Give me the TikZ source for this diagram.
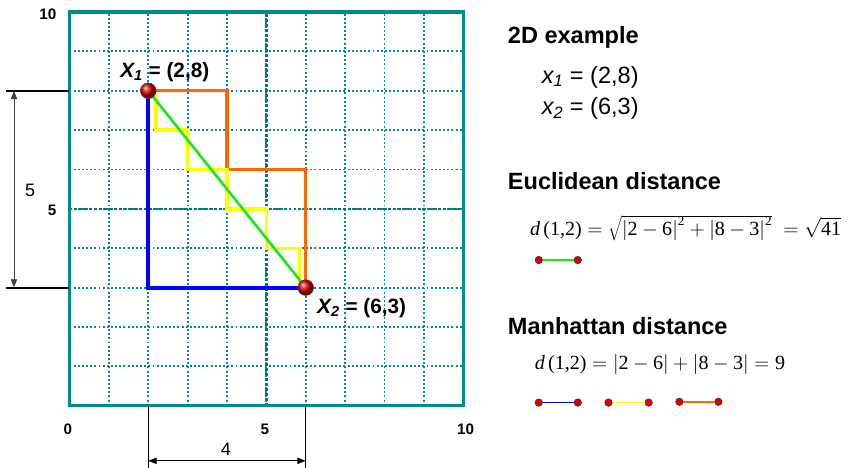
\RequirePackage{fix-cm}
\documentclass[tikz,border=0pt]{standalone}
\usepackage{fontspec}
\setmainfont{Liberation Sans}
\newfontfamily\timesf{Liberation Serif}
\usetikzlibrary{arrows.meta}

\definecolor{gridteal}{RGB}{0,140,140}
\definecolor{pathblue}{RGB}{0,0,255}
\definecolor{pathorange}{RGB}{255,102,0}
\definecolor{pathyellow}{RGB}{255,255,0}
\definecolor{pathgreen}{RGB}{20,235,20}
\newcommand{\tf}[1]{\mbox{\timesf #1}}
\newcommand{\tfsup}[1]{\mbox{\timesf\fontsize{9.5}{11}\selectfont #1}}

\begin{document}
\begin{tikzpicture}[
  gridline/.style={gridteal, line width=1.3pt, dash pattern=on 1.4pt off 1.6pt},
  midline/.style={gridteal!85!black, line width=1.9pt, dash pattern=on 2pt off 1.6pt},
  frame/.style={gridteal, line width=2.2pt},
  ball/.style={circle, inner sep=0pt, minimum size=0.4cm, shading=ball, ball color=red!85!black, draw=black!70, thin},
  dot/.style={circle, inner sep=0pt, minimum size=0.19cm, fill=red!85!black, draw=black!80, thin},
  extline/.style={line width=1.3pt},
  dimline/.style={line width=0.6pt, {Triangle[length=6pt,width=4.5pt]}-{Triangle[length=6pt,width=4.5pt]}},
  ticklab/.style={font=\bfseries\fontsize{11}{13}\selectfont},
  dimlab/.style={font=\fontsize{13}{15}\selectfont},
  ptlab/.style={font=\bfseries\fontsize{15}{18}\selectfont},
  head/.style={anchor=west, inner sep=0pt, font=\bfseries\fontsize{17}{20}\selectfont},
  body/.style={anchor=west, inner sep=0pt, font=\fontsize{17}{20}\selectfont},
  formula/.style={anchor=west, inner sep=0pt, font=\fontsize{14.5}{17}\selectfont}
]
\useasboundingbox (-1.765,-1.56) rectangle (19.9,10.305);

% grid
\foreach \i in {1,...,9} {
  \draw[gridline] (\i,0) -- (\i,10);
  \draw[gridline] (0,\i) -- (10,\i);
}
\draw[midline] (5,0) -- (5,10);
\draw[midline] (0,5) -- (10,5);
\draw[frame] (0,0) rectangle (10,10);

\node[ticklab] (t10) at (-0.55,9.93) {10};
\node[ticklab] (t5)  at (-0.44,4.95) {5};
\node[ticklab] (b0)  at (-0.04,-0.61) {0};
\node[ticklab] (b5)  at (4.96,-0.61) {5};
\node[ticklab] (b10) at (10.06,-0.61) {10};

% the two points
\coordinate (p1) at (2,8);
\coordinate (p2) at (6,3);

\draw[pathorange, line width=2.2pt] (p1) -| (4,6) -| (p2);
\draw[pathyellow, line width=2.4pt] (2.2,7.92) |- (3,7) |- (4,6) |- (5,5) |- (5.85,4) -- (5.85,3.12);
\draw[pathblue, line width=2.8pt] (p1) |- (p2);
\draw[pathgreen, line width=1.9pt] (p1) -- (p2);

\node[ball] (x1) at (p1) {};
\node[ball] (x2) at (p2) {};
\node[ptlab] (x1lab) at (2.42,8.47) {\itshape X\textsubscript{1}\upshape\ = (2,8)};
\node[ptlab] (x2lab) at (7.42,2.47) {\itshape X\textsubscript{2}\upshape\ = (6,3)};

% dimensions
\coordinate (l8a) at (-1.6,8);
\coordinate (l8b) at (0,8);
\coordinate (l3a) at (-1.6,3);
\coordinate (l3b) at (0,3);
\draw[extline] (l8a) -- (l8b);
\draw[extline] (l3a) -- (l3b);
\coordinate (v8) at (-1.41,8);
\coordinate (v3) at (-1.41,3);
\draw[dimline, black!75] (v8) -- (v3);
\node[dimlab] (dim5) at (-1.0,5.46) {5};

\coordinate (u2a) at (2,0);
\coordinate (u2b) at (2,-1.6);
\coordinate (u6a) at (6,0);
\coordinate (u6b) at (6,-1.6);
\draw[line width=0.8pt] (u2a) -- (u2b);
\draw[line width=0.8pt] (u6a) -- (u6b);
\coordinate (h2) at (2,-1.4);
\coordinate (h6) at (6,-1.4);
\draw[dimline] (h2) -- (h6);
\node[dimlab] (dim4) at (3.97,-1.1) {4};

% text on the right
\node[head] (ex) at (11.13,9.36) {2D example};
\node[body] (ex1) at (11.99,8.34) {\itshape x\textsubscript{1}\upshape\ = (2,8)};
\node[body] (ex2) at (11.99,7.55) {\itshape x\textsubscript{2}\upshape\ = (6,3)};

\node[head] (eu) at (11.13,5.71) {Euclidean distance};
\node[formula] (euf) at (11.69,4.52)
  {$\tf{\itshape d}\,\tf{(1,2)} = \sqrt{\big|\tf{2}-\tf{6}\big|^{\tfsup{2}}+\big|\tf{8}-\tf{3}\big|^{\tfsup{2}}}\ = \sqrt{\tf{41}}$};
\node[dot] (e1) at (11.92,3.70) {};
\node[dot] (e2) at (12.91,3.70) {};
\draw[pathgreen, line width=1.3pt] (e1) -- (e2);

\node[head] (ma) at (11.13,2.02) {Manhattan distance};
\node[formula] (maf) at (11.81,1.05)
  {$\tf{\itshape d}\,\tf{(1,2)} = \big|\tf{2}-\tf{6}\big|+\big|\tf{8}-\tf{3}\big| = \tf{9}$};
\node[dot] (m1) at (11.92,0.08) {};
\node[dot] (m2) at (12.91,0.08) {};
\node[dot] (m3) at (13.69,0.08) {};
\node[dot] (m4) at (14.71,0.08) {};
\node[dot] (m5) at (15.49,0.10) {};
\node[dot] (m6) at (16.48,0.10) {};
\draw[pathblue, line width=1.3pt] (m1) -- (m2);
\draw[pathyellow, line width=1.3pt] (m3) -- (m4);
\draw[pathorange, line width=1.3pt] (m5) -- (m6);

\end{tikzpicture}
\end{document}
